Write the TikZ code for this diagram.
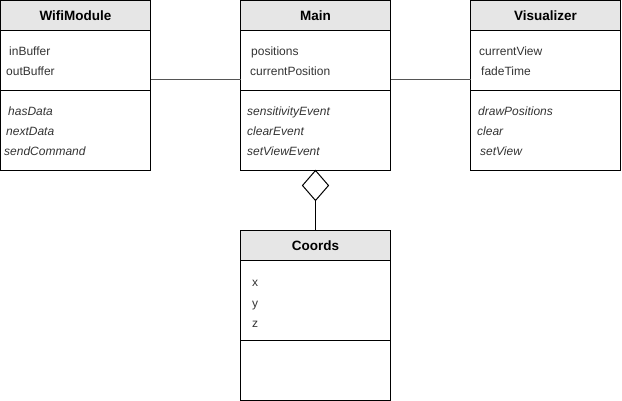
\documentclass[tikz,border=0pt]{standalone}
\usepackage{fontspec}
\setmainfont{Liberation Sans}
\usepackage{xcolor}
\usepackage{tikz}
\usetikzlibrary{shapes.geometric}
\usetikzlibrary{positioning,calc}
\definecolor{headgray}{HTML}{E6E6E6}
\definecolor{txtgray}{HTML}{333333}
\definecolor{linegray}{HTML}{555555}
\tikzset{
	classhead/.style={draw,fill=headgray,line width=1pt,minimum width=150pt,minimum height=30pt,inner sep=0pt,outer sep=0pt,font=\bfseries\fontsize{13.5}{15}\selectfont},
	classpart/.style={draw,line width=1pt,minimum width=150pt,inner sep=0pt,outer sep=0pt,anchor=north},
	member/.style={anchor=west,inner sep=0pt,text height=12pt,text depth=2pt,text=txtgray,font=\fontsize{12}{14}\selectfont},
	oper/.style={member,font=\itshape\fontsize{12}{14}\selectfont},
	assoc/.style={draw=linegray,line width=1pt}
}
\begin{document}
\begin{tikzpicture}[x=1pt,y=1pt]
	\useasboundingbox (0,0) rectangle (622,-401);
	% WifiModule
	\node[classhead] (wifi) at (75.5,-15.5) {WifiModule};
	\node[classpart,minimum height=60pt] (wifiA) at (wifi.south) {};
	\node[classpart,minimum height=80pt] (wifiO) at (wifiA.south) {};
	\node[member] (inbuf) at (9,-51) {inBuffer};
	\node[member] (outbuf) at (6,-71) {outBuffer};
	\node[oper] (hasdata) at (8,-111) {hasData};
	\node[oper] (nextdata) at (6,-131) {nextData};
	\node[oper] (sendcmd) at (4,-151) {sendCommand};
	% Main
	\node[classhead] (main) at (315.5,-15.5) {Main};
	\node[classpart,minimum height=60pt] (mainA) at (main.south) {};
	\node[classpart,minimum height=80pt] (mainO) at (mainA.south) {};
	\node[member] (pos) at (251,-51) {positions};
	\node[member] (curpos) at (250,-71) {currentPosition};
	\node[oper] (sensev) at (247,-111) {sensitivityEvent};
	\node[oper] (clearev) at (247,-131) {clearEvent};
	\node[oper] (viewev) at (247,-151) {setViewEvent};
	% Visualizer
	\node[classhead] (vis) at (545.5,-15.5) {Visualizer};
	\node[classpart,minimum height=60pt] (visA) at (vis.south) {};
	\node[classpart,minimum height=80pt] (visO) at (visA.south) {};
	\node[member] (curview) at (479,-51) {currentView};
	\node[member] (fade) at (481,-71) {fadeTime};
	\node[oper] (drawpos) at (478,-111) {drawPositions};
	\node[oper] (clr) at (477,-131) {clear};
	\node[oper] (setview) at (480,-151) {setView};
	% Coords
	\node[classhead] (coords) at (315.5,-245.5) {Coords};
	\node[classpart,minimum height=80pt] (coordsA) at (coords.south) {};
	\node[classpart,minimum height=60pt] (coordsO) at (coordsA.south) {};
	\node[member] (cx) at (252,-282) {x};
	\node[member] (cy) at (252,-302) {y};
	\node[member] (cz) at (252,-322) {z};
	% links
	\draw[assoc] ([yshift=-19pt]wifiA.east) -- ([yshift=-19pt]mainA.west);
	\draw[assoc] ([yshift=-19pt]mainA.east) -- ([yshift=-19pt]visA.west);
	\node[draw,diamond,fill=white,line width=1pt,minimum width=26pt,minimum height=30pt,inner sep=0pt,outer sep=0pt,anchor=north] (agg) at (mainO.south) {};
	\draw[line width=1pt] (agg.south) -- (coords.north);
\end{tikzpicture}
\end{document}
